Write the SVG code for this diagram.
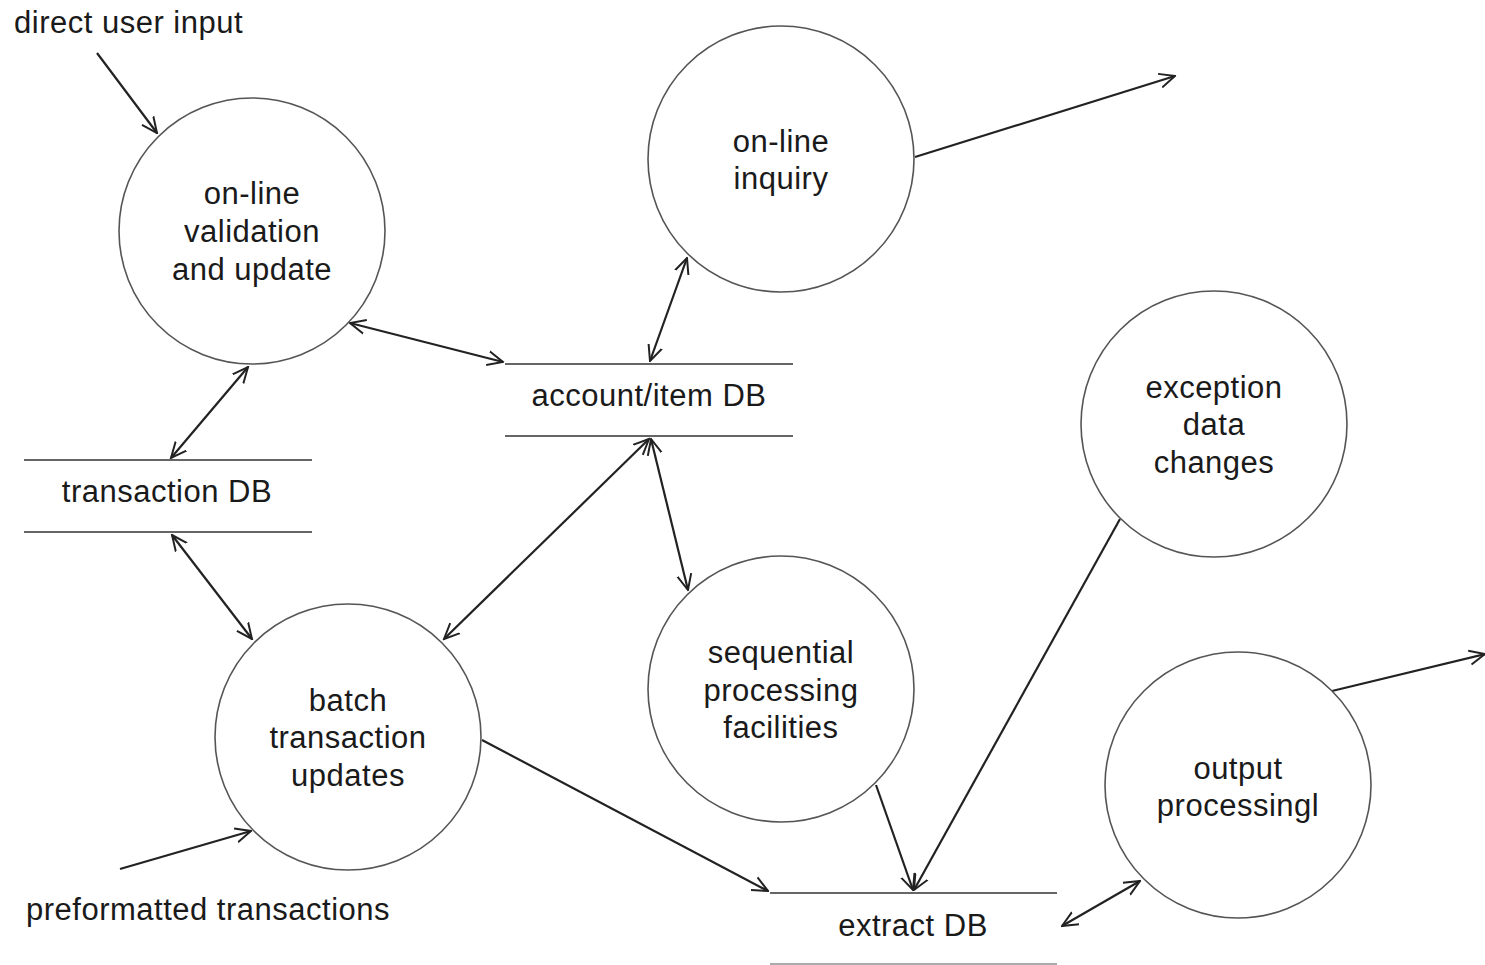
<svg xmlns="http://www.w3.org/2000/svg" width="1485" height="965" viewBox="0 0 1485 965">
<style>
.bg{fill:#fff}
.proc{fill:#fff;stroke:#555;stroke-width:1.6}
.store{stroke:#666;stroke-width:2}
.t{font-family:"Liberation Sans",Arial,sans-serif;font-size:31px;letter-spacing:0.5px;fill:#1a1a1a;text-anchor:middle}
.ts{font-family:"Liberation Sans",Arial,sans-serif;font-size:31px;letter-spacing:0.5px;fill:#1a1a1a}
.c{stroke:#222;stroke-width:2.2;fill:none;marker-end:url(#ah)}
.cb{stroke:#222;stroke-width:2.2;fill:none;marker-end:url(#ah);marker-start:url(#ah)}
</style>
<defs>
<marker id="ah" viewBox="0 0 12 12" refX="11" refY="6" markerWidth="17" markerHeight="17" markerUnits="userSpaceOnUse" orient="auto-start-reverse">
<path d="M0,1 L11,6 L0,11" fill="none" stroke="#222" stroke-width="1.4"/>
</marker>
</defs>
<rect class="bg" width="1485" height="965"/>

<g id="connectors">
<line class="c" x1="97" y1="53" x2="157" y2="133"/>
<line class="cb" x1="350" y1="323" x2="503" y2="362"/>
<line class="cb" x1="687" y1="258" x2="650" y2="361"/>
<line class="cb" x1="248" y1="367" x2="171" y2="458"/>
<line class="cb" x1="172" y1="535" x2="252" y2="639"/>
<line class="cb" x1="649" y1="439" x2="444" y2="639"/>
<line class="cb" x1="651" y1="439" x2="688" y2="590"/>
<line class="c" x1="915" y1="157" x2="1175" y2="76"/>
<line class="c" x1="482" y1="740" x2="768" y2="891"/>
<line class="c" x1="876" y1="785" x2="913" y2="890"/>
<line class="c" x1="1120" y1="519" x2="914" y2="890"/>
<line class="cb" x1="1062" y1="926" x2="1140" y2="881"/>
<line class="c" x1="1332" y1="691" x2="1485" y2="654"/>
<line class="c" x1="120" y1="869" x2="251" y2="831"/>
</g>

<g id="label-direct">
<text class="ts" x="14" y="33">direct user input</text>
</g>
<g id="label-preformatted">
<text class="ts" x="26" y="920">preformatted transactions</text>
</g>

<g id="validation">
<circle class="proc" cx="252" cy="231" r="133"/>
<text class="t" x="252" y="204">on-line</text>
<text class="t" x="252" y="242">validation</text>
<text class="t" x="252" y="280">and update</text>
</g>

<g id="inquiry">
<circle class="proc" cx="781" cy="159" r="133"/>
<text class="t" x="781" y="152">on-line</text>
<text class="t" x="781" y="189">inquiry</text>
</g>

<g id="exception">
<circle class="proc" cx="1214" cy="424" r="133"/>
<text class="t" x="1214" y="398">exception</text>
<text class="t" x="1214" y="435">data</text>
<text class="t" x="1214" y="473">changes</text>
</g>

<g id="sequential">
<circle class="proc" cx="781" cy="689" r="133"/>
<text class="t" x="781" y="663">sequential</text>
<text class="t" x="781" y="701">processing</text>
<text class="t" x="781" y="738">facilities</text>
</g>

<g id="batch">
<circle class="proc" cx="348" cy="737" r="133"/>
<text class="t" x="348" y="711">batch</text>
<text class="t" x="348" y="748">transaction</text>
<text class="t" x="348" y="786">updates</text>
</g>

<g id="output">
<circle class="proc" cx="1238" cy="785" r="133"/>
<text class="t" x="1238" y="779">output</text>
<text class="t" x="1238" y="816">processingl</text>
</g>

<g id="transaction-db">
<line class="store" x1="24" y1="460" x2="312" y2="460"/>
<line class="store" x1="24" y1="532" x2="312" y2="532"/>
<text class="t" x="167" y="502">transaction DB</text>
</g>

<g id="account-db">
<line class="store" x1="505" y1="364" x2="793" y2="364"/>
<line class="store" x1="505" y1="436" x2="793" y2="436"/>
<text class="t" x="649" y="406">account/item DB</text>
</g>

<g id="extract-db">
<line class="store" x1="770" y1="893" x2="1057" y2="893"/>
<line class="store" x1="770" y1="964" x2="1057" y2="964" style="stroke:#aaa"/>
<text class="t" x="913" y="936">extract DB</text>
</g>
</svg>
